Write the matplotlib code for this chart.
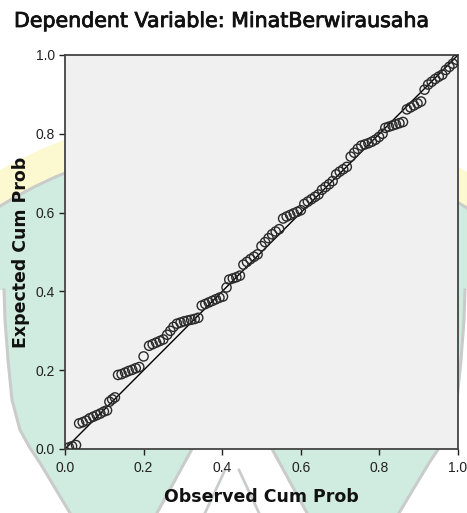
import matplotlib.pyplot as plt
import matplotlib.patheffects as pe
from matplotlib.patches import Circle, Polygon

# Observed vs expected cumulative probabilities
observado = [0.010, 0.018, 0.028,
             0.036, 0.045, 0.054, 0.063, 0.072, 0.081, 0.090, 0.099, 0.107,
             0.113, 0.120, 0.127,
             0.135, 0.144, 0.153, 0.162, 0.171, 0.180, 0.189, 0.200,
             0.214, 0.223, 0.232, 0.241, 0.250, 0.260, 0.268, 0.276,
             0.285, 0.294, 0.303, 0.312, 0.321, 0.330, 0.339,
             0.348, 0.357, 0.366, 0.375, 0.384, 0.393, 0.402, 0.411,
             0.418, 0.427, 0.436, 0.445,
             0.454, 0.463, 0.472, 0.481, 0.490,
             0.500, 0.509, 0.518, 0.527, 0.536, 0.545,
             0.555, 0.564, 0.573, 0.582, 0.591, 0.600,
             0.609, 0.618, 0.627, 0.636, 0.645,
             0.654, 0.663, 0.672, 0.681,
             0.690, 0.699, 0.708, 0.717,
             0.727, 0.736, 0.745,
             0.754, 0.763, 0.772, 0.781, 0.790, 0.799, 0.808,
             0.815, 0.824, 0.833, 0.842, 0.851, 0.860,
             0.870, 0.879, 0.888, 0.897, 0.906,
             0.915, 0.924, 0.933, 0.942, 0.951, 0.960,
             0.969, 0.978, 0.987, 0.996]
esperado = [0.004, 0.007, 0.010,
            0.065, 0.068, 0.072, 0.078, 0.082, 0.086, 0.090, 0.095, 0.098,
            0.120, 0.126, 0.131,
            0.188, 0.190, 0.194, 0.198, 0.201, 0.205, 0.208, 0.235,
            0.262, 0.266, 0.270, 0.274, 0.278, 0.290, 0.300, 0.310,
            0.318, 0.321, 0.324, 0.326, 0.328, 0.330, 0.333,
            0.364, 0.368, 0.372, 0.376, 0.380, 0.384, 0.387, 0.410,
            0.430, 0.433, 0.436, 0.440,
            0.468, 0.475, 0.482, 0.488, 0.494,
            0.515, 0.525, 0.535, 0.545, 0.552, 0.558,
            0.585, 0.590, 0.594, 0.598, 0.602, 0.606,
            0.622, 0.628, 0.634, 0.640, 0.646,
            0.658, 0.665, 0.672, 0.680,
            0.697, 0.704, 0.710, 0.716,
            0.742, 0.752, 0.762,
            0.770, 0.773, 0.776, 0.780, 0.785, 0.792, 0.800,
            0.815, 0.818, 0.821, 0.824, 0.827, 0.830,
            0.862, 0.867, 0.872, 0.877, 0.882,
            0.912, 0.925, 0.932, 0.939, 0.945, 0.950,
            0.962, 0.970, 0.978, 0.988]

ticks = [0.0, 0.2, 0.4, 0.6, 0.8, 1.0]
tick_labels = ["0.0", "0.2", "0.4", "0.6", "0.8", "1.0"]

plt.rcParams['font.family'] = ['Liberation Sans', 'DejaVu Sans']

W, H = 467, 513
fig = plt.figure(figsize=(W / 100, H / 100), dpi=100)

# marca de agua del fondo (aproximada, en pixeles)
fondo = fig.add_axes([0, 0, 1, 1], zorder=0)
fondo.set_xlim(0, W)
fondo.set_ylim(H, 0)
fondo.axis('off')
verde = '#d0ebdf'
gris = '#c9cccb'
fondo.add_patch(Circle((232, 580), 471, color='#fcf8d0', lw=0))
fondo.add_patch(Circle((232, 580), 440, color=verde, lw=0))
fondo.add_patch(Circle((232, 580), 440, fill=False, ec=gris, lw=2.2))

curva = [(4, 290), (5, 320), (8, 360), (12, 400), (20, 430), (30, 448),
         (40, 463), (55, 488), (70, 513)]
esq_izq = [(0, 290)] + curva + [(0, 513)]
esq_der = [(W - x + 2, y) for x, y in esq_izq]
for pts, cur in [(esq_izq, curva), (esq_der, [(W - x + 2, y) for x, y in curva])]:
    fondo.add_patch(Polygon(pts, closed=True, fc='white', ec='none'))
    fondo.plot([p[0] for p in cur], [p[1] for p in cur], color=gris, lw=2.2)

v_pts = [(192, 449), (272, 449), (307, 513), (157, 513)]
fondo.add_patch(Polygon(v_pts, closed=True, fc='white', ec='none'))
fondo.plot([192, 157], [449, 513], color=gris, lw=2.2)
fondo.plot([272, 307], [449, 513], color=gris, lw=2.2)
fondo.plot([205, 225], [513, 470], color=gris, lw=2.0)
fondo.plot([259, 239], [513, 470], color=gris, lw=2.0)

ax = fig.add_axes([65 / W, 1 - 449 / H, (458 - 65) / W, (449 - 55) / H], zorder=1)
ax.set_facecolor('#f0f0f0')
ax.plot([0, 1], [0, 1], color='black', lw=1.0, zorder=2)
ax.scatter(observado, esperado, s=44, facecolors='none', edgecolors='#2a2a2a',
           linewidths=1.0, zorder=3)

ax.set_xlim(0, 1)
ax.set_ylim(0, 1)
ax.set_xticks(ticks)
ax.set_xticklabels(tick_labels)
ax.set_yticks(ticks)
ax.set_yticklabels(tick_labels)
ax.tick_params(direction='out', length=4.3, width=1, labelsize=10, colors='#222222')
ax.tick_params(axis='x', pad=4)
ax.tick_params(axis='y', pad=3)
for s in ax.spines.values():
    s.set_color('#444444')
    s.set_linewidth(1.3)

ax.set_xlabel("Observed Cum Prob", fontsize=12.5, fontweight='bold',
              family='DejaVu Sans', labelpad=10, color='#111111')
ax.set_ylabel("Expected Cum Prob", fontsize=12.5, fontweight='bold',
              family='DejaVu Sans', labelpad=4, color='#111111')
fig.text(14 / W, 1 - 27 / H, "Dependent Variable: MinatBerwirausaha",
         fontsize=14.8, family='DejaVu Sans', va='baseline', ha='left', color='#111111',
         path_effects=[pe.withStroke(linewidth=0.6, foreground='#111111')])

fig.savefig("out.png", dpi=100)
